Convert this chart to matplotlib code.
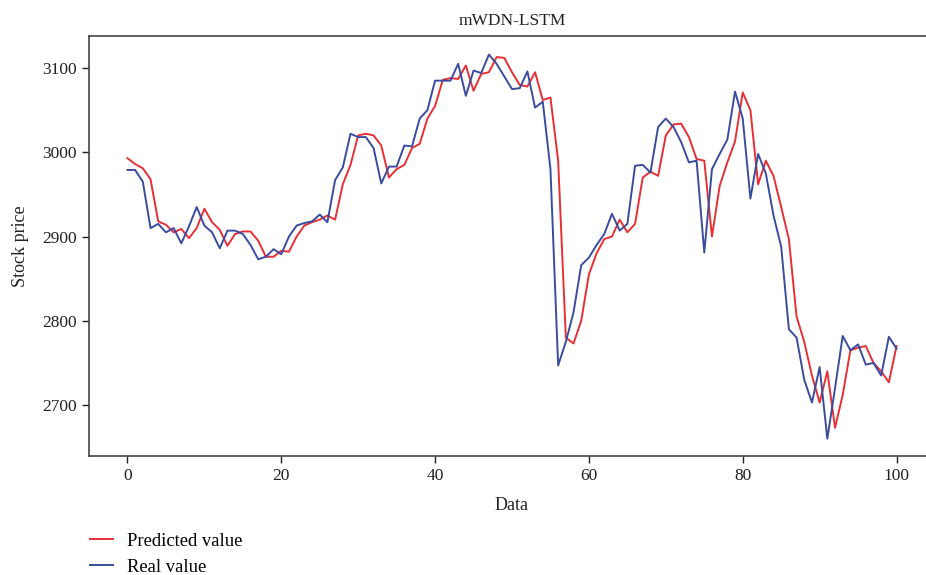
import matplotlib
matplotlib.use("Agg")
import matplotlib.pyplot as plt
import numpy as np

x_index = list(range(101))

real_value = [2979, 2979, 2965, 2910, 2915, 2905, 2910, 2892, 2912, 2935,
              2913, 2905, 2886, 2907, 2907, 2903, 2890, 2873, 2876, 2885,
              2879, 2900, 2913, 2916, 2918, 2926, 2917, 2967, 2982, 3022,
              3018, 3018, 3005, 2963, 2983, 2983, 3008, 3007, 3040, 3050,
              3085, 3085, 3085, 3105, 3067, 3097, 3094, 3116, 3105, 3090,
              3075, 3076, 3096, 3053, 3060, 2980, 2747, 2775, 2810, 2866,
              2875, 2890, 2903, 2927, 2907, 2915, 2984, 2985, 2976, 3030,
              3040, 3030, 3012, 2988, 2990, 2881, 2980, 2998, 3015, 3072,
              3040, 2945, 2998, 2975, 2925, 2888, 2790, 2780, 2730, 2703,
              2745, 2660, 2720, 2782, 2765, 2772, 2748, 2750, 2735, 2781,
              2767]

predicted_value = [2993, 2986, 2981, 2968, 2918, 2914, 2905, 2909, 2898, 2910,
                   2933, 2917, 2908, 2889, 2903, 2906, 2906, 2895, 2876, 2876,
                   2883, 2882, 2900, 2913, 2917, 2920, 2925, 2920, 2962, 2985,
                   3020, 3022, 3020, 3008, 2970, 2980, 2985, 3005, 3010, 3040,
                   3055, 3086, 3088, 3087, 3103, 3073, 3093, 3095, 3113, 3112,
                   3095, 3080, 3078, 3095, 3062, 3065, 2990, 2780, 2773, 2800,
                   2855, 2880, 2897, 2900, 2920, 2905, 2915, 2970, 2977, 2972,
                   3020, 3033, 3034, 3018, 2992, 2990, 2900, 2960, 2988, 3013,
                   3071, 3050, 2962, 2990, 2972, 2935, 2897, 2805, 2775, 2735,
                   2703, 2740, 2673, 2712, 2765, 2768, 2770, 2750, 2740, 2727,
                   2770]

x_ticks = [0, 20, 40, 60, 80, 100]
y_ticks = [2700, 2800, 2900, 3000, 3100]

plt.rcParams['font.family'] = ['Liberation Serif', 'DejaVu Serif']

fig = plt.figure(figsize=(9.26, 5.75), dpi=100)
W, H = 926, 575
ax = fig.add_axes([89 / W, (H - 456) / H, (935 - 89) / W, (456 - 36) / H])

red = '#e63035'
blue = '#3a4c9e'
l1, = ax.plot(x_index, predicted_value, color=red, lw=1.4, label='Predicted value')
l2, = ax.plot(x_index, real_value, color=blue, lw=1.4, label='Real value')

ax.set_xlim(-5, 105)
ax.set_ylim(2639.5, 3138)
ax.set_xticks(x_ticks)
ax.set_yticks(y_ticks)
ax.tick_params(labelsize=12.5, colors='#222222', length=5, width=1, direction='out', pad=4)
for s in ['left', 'bottom', 'top']:
    ax.spines[s].set_color('#444444')
    ax.spines[s].set_linewidth(1.2)
ax.spines['right'].set_visible(False)

ax.set_title('mWDN-LSTM', fontsize=12.5, color='#222222', pad=8)
ax.set_xlabel('Data', fontsize=13, color='#222222', labelpad=9)
ax.set_ylabel('Stock price', fontsize=13, color='#222222', labelpad=9)

fig.legend(handles=[l1, l2], loc='lower left', bbox_to_anchor=(79 / W, -12 / H),
           frameon=False, fontsize=13.4, handlelength=1.25, handletextpad=0.75,
           labelspacing=0.5, borderaxespad=0.2)

fig.savefig('out.png', dpi=100)
